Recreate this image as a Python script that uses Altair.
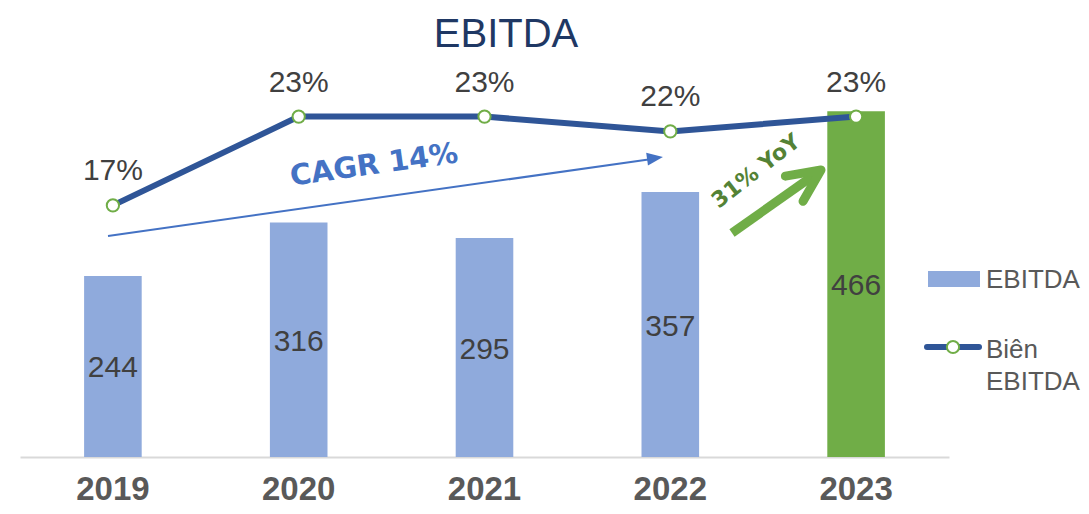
import altair as alt
import pandas as pd

# ---- data ----
years = ["2019", "2020", "2021", "2022", "2023"]
ebitda = [244, 316, 295, 357, 466]
margin = [0.17, 0.23, 0.23, 0.22, 0.23]
margin_labels = ["17%", "23%", "23%", "22%", "23%"]
legend_labels = ["EBITDA", "Biên\nEBITDA"]
title_text = ["EBITDA"]
cagr_label = ["CAGR 14%"]
yoy_label = ["31% YoY"]

df = pd.DataFrame({"year": years, "ebitda": ebitda, "margin": margin, "mlabel": margin_labels})
one = pd.DataFrame({"k": [0]})

W, H = 929, 407
BAR_MAX = 548.5
LINE_MAX = 0.275
FONT = "Liberation Sans"

BLUE_BAR = "#8FAADC"
GREEN = "#70AD47"
LINE_BLUE = "#2F5597"
CAGR_BLUE = "#4472C4"
DARK_GREEN = "#548235"
TXT = "#404040"

xenc = alt.X(
    "year:N", sort=years,
    scale=alt.Scale(paddingInner=0.69, paddingOuter=0.345),
    axis=alt.Axis(
        title=None, labelAngle=0, labelFont=FONT, labelFontWeight="bold",
        labelFontSize=33, labelColor="#595959", domainColor="#D9D9D9",
        domainWidth=2, ticks=False, tickSize=0, labelPadding=42,
        labelBaseline="alphabetic", grid=False,
    ),
)

ybar_scale = alt.Scale(domain=[0, BAR_MAX], nice=False, zero=True)
yline_scale = alt.Scale(domain=[0, LINE_MAX], nice=False, zero=True)

base = alt.Chart(df)

bars = base.mark_bar().encode(
    x=xenc,
    y=alt.Y("ebitda:Q", scale=ybar_scale, axis=None),
    fill=alt.condition(alt.datum.year == "2023", alt.value(GREEN), alt.value(BLUE_BAR)),
)

bar_text = base.transform_calculate(half="datum.ebitda / 2").mark_text(
    font=FONT, fontSize=30, color=TXT, baseline="middle", dy=2
).encode(
    x=xenc,
    y=alt.Y("half:Q", scale=ybar_scale, axis=None),
    text="ebitda:Q",
)

line = base.mark_line(color=LINE_BLUE, strokeWidth=6).encode(
    x=xenc,
    y=alt.Y("margin:Q", scale=yline_scale, axis=None),
)

pts = base.mark_point(filled=True, fill="white", stroke=GREEN, strokeWidth=2, size=150, opacity=1).encode(
    x=xenc,
    y=alt.Y("margin:Q", scale=yline_scale, axis=None),
)

pct = base.mark_text(font=FONT, fontSize=30, color=TXT, baseline="alphabetic", dy=-25).encode(
    x=xenc,
    y=alt.Y("margin:Q", scale=yline_scale, axis=None),
    text="mlabel:N",
)

# ---- title ----
title = alt.Chart(pd.DataFrame({"t": title_text})).mark_text(
    font=FONT, fontSize=40, color="#1F3864", align="center", baseline="alphabetic"
).encode(x=alt.value(486), y=alt.value(-3), text="t:N")

# ---- annotations ----
ann = alt.Chart(one)
cagr_line = ann.mark_rule(color=CAGR_BLUE, strokeWidth=2).encode(
    x=alt.value(88), y=alt.value(186), x2=alt.value(632), y2=alt.value(109)
)
cagr_head = ann.mark_point(
    shape="M-1,-0.8L1,0L-1,0.8Z", filled=True, color=CAGR_BLUE, size=256, angle=352, opacity=1
).encode(x=alt.value(635), y=alt.value(108))
cagr_text = alt.Chart(pd.DataFrame({"t": cagr_label})).mark_text(
    font="DejaVu Sans", fontWeight="bold", fontSize=29, color=CAGR_BLUE,
    angle=352, baseline="middle", align="center"
).encode(x=alt.value(354), y=alt.value(115), text="t:N")

yoy_line = ann.mark_rule(color=GREEN, strokeWidth=9).encode(
    x=alt.value(712), y=alt.value(183), x2=alt.value(797), y2=alt.value(123)
)
yoy_head = ann.mark_point(
    shape="M-1,-0.47L0,0L-1,0.47", filled=False, stroke=GREEN, strokeWidth=9,
    strokeJoin="round", strokeCap="round", size=4277, angle=325, opacity=1
).encode(x=alt.value(801), y=alt.value(120))
yoy_text = alt.Chart(pd.DataFrame({"t": yoy_label})).mark_text(
    font="DejaVu Sans", fontWeight="bold", fontSize=22, color=DARK_GREEN,
    angle=322, baseline="middle", align="center"
).encode(x=alt.value(736), y=alt.value(121), text="t:N")

# ---- legend ----
leg_df = pd.DataFrame({"label": legend_labels})
leg_rect = ann.mark_rect(color=BLUE_BAR).encode(
    x=alt.value(908), x2=alt.value(960), y=alt.value(221), y2=alt.value(237)
)
leg_t1 = alt.Chart(leg_df.iloc[[0]]).mark_text(
    font=FONT, fontSize=26, color="#595959", align="left", baseline="alphabetic"
).encode(x=alt.value(966), y=alt.value(238), text="label:N")
leg_rule = ann.mark_rule(color=LINE_BLUE, strokeWidth=6, strokeCap="round").encode(
    x=alt.value(907), x2=alt.value(959), y=alt.value(297)
)
leg_pt = ann.mark_point(filled=True, fill="white", stroke=GREEN, strokeWidth=2, size=150, opacity=1).encode(
    x=alt.value(933), y=alt.value(297)
)
leg_t2 = alt.Chart(leg_df.iloc[[1]]).mark_text(
    font=FONT, fontSize=26, color="#595959", align="left", baseline="alphabetic",
    lineBreak="\n", lineHeight=32
).encode(x=alt.value(966), y=alt.value(308), text="label:N")

chart = alt.layer(
    bars, bar_text, line, pts, pct, title,
    cagr_line, cagr_head, cagr_text, yoy_line, yoy_head, yoy_text,
    leg_rect, leg_t1, leg_rule, leg_pt, leg_t2,
).resolve_scale(y="independent").properties(
    width=W, height=H,
    autosize=alt.AutoSizeParams(type="none"),
    padding={"left": 12, "top": 42, "right": 132, "bottom": 49},
    background="white",
).configure_view(stroke=None)

chart.save("out.html", embed_options={"renderer": "svg", "actions": False})
